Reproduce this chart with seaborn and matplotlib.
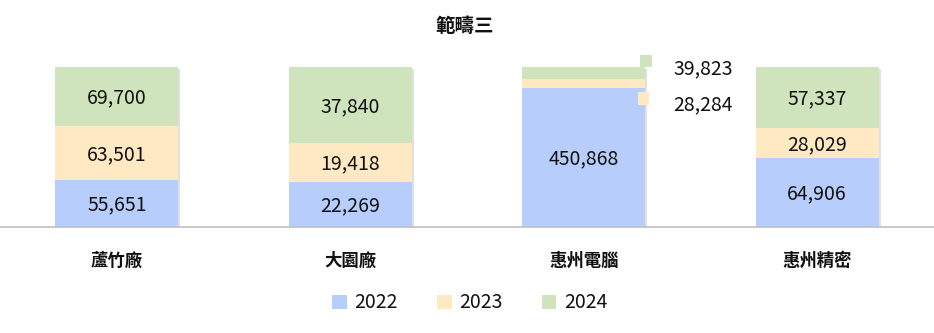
import matplotlib
matplotlib.use("Agg")
import matplotlib.pyplot as plt
import seaborn as sns
import pandas as pd
import numpy as np
from matplotlib.patches import Patch, Rectangle
import matplotlib.patheffects as pe

categories = ["蘆竹廠", "大園廠", "惠州電腦", "惠州精密"]
years = ["2022", "2023", "2024"]
v2022 = [55651, 22269, 450868, 64906]
v2023 = [63501, 19418, 28284, 28029]
v2024 = [69700, 37840, 39823, 57337]
title = "範疇三"

colors = {"2022": "#B7CDFB", "2023": "#FEE9C3", "2024": "#CFE4BC"}

sns.set_theme(style="white")
plt.rcParams['font.family'] = ['Noto Sans CJK TC', 'DejaVu Sans']

vals = np.array([v2022, v2023, v2024], dtype=float)
tot = vals.sum(axis=0)
frac = vals / tot
cum = np.cumsum(frac, axis=0)

fig = plt.figure(figsize=(9.34, 3.33), dpi=100)
ax = fig.add_axes([0.0, 1 - 227/333, 1.0, 160/333])

shadow = [pe.SimplePatchShadow(offset=(1.5, -1.5), alpha=0.12, shadow_rgbFace="#000000"), pe.Normal()]
# draw cumulative layers from top down
for i in [2, 1, 0]:
    df = pd.DataFrame({"cat": categories, "val": cum[i]})
    sns.barplot(data=df, x="cat", y="val", color=colors[years[i]], width=0.527,
                saturation=1, ax=ax, linewidth=0, order=categories)
for p in ax.patches[:4]:
    p.set_path_effects(shadow)

ax.set_xlim(-0.5, 3.5)
ax.set_ylim(0, 1)
for s in ax.spines.values():
    s.set_visible(False)
ax.axhline(0, color="#BFBFBF", lw=1.2, zorder=5, clip_on=False)
ax.set_yticks([])
ax.set_ylabel("")
ax.set_xlabel("")
ax.set_xticks(range(4))
ax.set_xticklabels(categories, fontsize=12.5, fontweight="bold", color="#111111")
ax.tick_params(axis="x", length=0, pad=18)

# value labels
for j in range(4):
    for i in range(3):
        lo = cum[i-1][j] if i > 0 else 0
        hi = cum[i][j]
        label = f"{int(vals[i][j]):,}"
        if frac[i][j] > 0.12:
            ax.text(j, (lo + hi) / 2 - 0.01, label, ha="center", va="center",
                    fontsize=14, color="#111111", zorder=6)

# callouts for small segments of 惠州電腦
j = 2
call = {2: (1.0375, 0.9875), 1: (0.803, 0.7625)}
xoff = {2: 0.267, 1: 0.256}
for i, (ym, yt) in call.items():
    ax.add_patch(Rectangle((j + xoff[i] - 0.024, ym - 0.038), 0.048, 0.076,
                           color=colors[years[i]], clip_on=False, zorder=6, lw=0))
    ax.text(j + 0.51, yt, f"{int(vals[i][j]):,}", ha="center", va="center",
            fontsize=14, color="#111111", zorder=6, clip_on=False)

fig.text(0.497, 1 - 27/333, title, ha="center", va="center", fontsize=14,
         fontweight="bold", color="#111111")

handles = [Patch(facecolor=colors[y], edgecolor="none", label=y) for y in years]
leg = fig.legend(handles=handles, loc="center", bbox_to_anchor=(0.503, 1 - 303/333), ncol=3,
                 frameon=False, fontsize=14, handlelength=0.75, handleheight=0.75,
                 handletextpad=0.4, columnspacing=2.0)
for t in leg.get_texts():
    t.set_fontweight("medium")
    t.set_color("#111111")

fig.savefig("out.png", dpi=100)
